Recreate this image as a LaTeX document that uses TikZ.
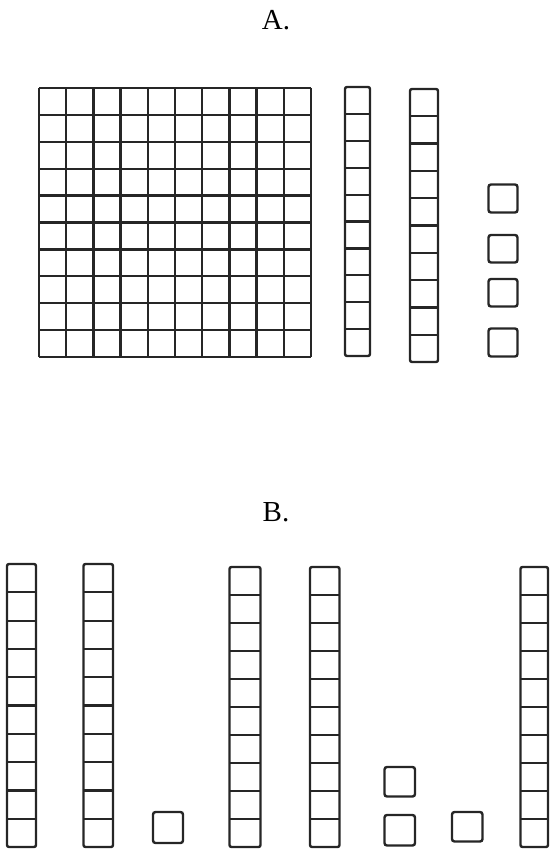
\documentclass[tikz,border=0pt]{standalone}
\usepackage{fontspec}
\setmainfont{Liberation Serif}
\tikzset{
  gridline/.style={line width=2.3pt, black!85},
  rodbox/.style={line width=2.4pt, black!85, rounded corners=2pt},
  rodline/.style={line width=2.2pt, black!85},
  unitbox/.style={line width=2.4pt, black!85, rounded corners=2.5pt},
  title/.style={font=\fontsize{29}{30}\selectfont, anchor=base, inner sep=0pt}
}
\newcommand\tenrod[4]{%
  \draw[rodbox] (#1,#2) rectangle (#3,#4);
  \foreach \i in {1,...,9} {
    \draw[rodline] (#1,{#2+\i*(#4-#2)/10}) -- (#3,{#2+\i*(#4-#2)/10});
  }
}
\begin{document}
\begin{tikzpicture}[x=1pt,y=-1pt]
\useasboundingbox (0,0) rectangle (551,853);
\node[title] (ta) at (276,30) {A.};
\node[title] (tb) at (276,521) {B.};
% hundred square
\foreach \i in {0,...,10} {
  \draw[gridline] ({39+\i*27.2},88) -- ({39+\i*27.2},357);
  \draw[gridline] (39,{88+\i*26.9}) -- (311,{88+\i*26.9});
}
% A rods
\tenrod{345}{87}{370}{356}
\tenrod{410}{89}{438}{362}
% A units
\draw[unitbox] (488.5,184.5) rectangle (517.5,212.5);
\draw[unitbox] (488.5,235) rectangle (517.5,262.5);
\draw[unitbox] (488.5,279) rectangle (517.5,306.5);
\draw[unitbox] (488.5,328.5) rectangle (517.5,356.5);
% B rods
\tenrod{7}{564}{36}{847}
\tenrod{83.5}{564}{113}{847}
\tenrod{229.5}{567}{260.5}{847}
\tenrod{310}{567}{339.5}{847}
\tenrod{520.5}{567}{548}{847}
% B units
\draw[unitbox] (153,812) rectangle (183,843);
\draw[unitbox] (384.5,767) rectangle (415,796.5);
\draw[unitbox] (384.5,815) rectangle (415,845.5);
\draw[unitbox] (452,812) rectangle (482.5,841.5);
\end{tikzpicture}
\end{document}
